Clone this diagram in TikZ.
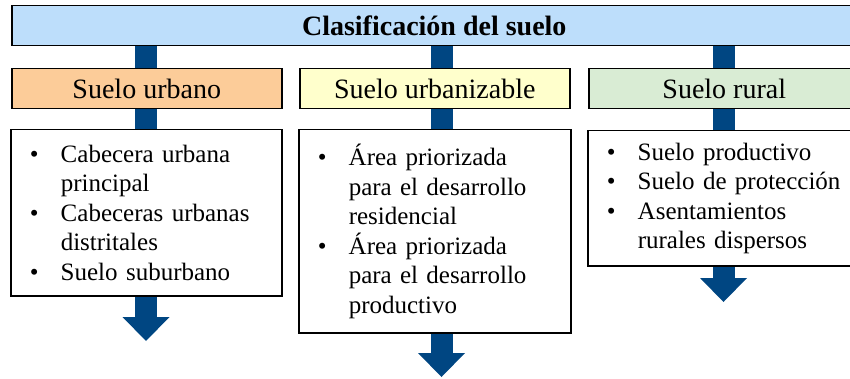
\documentclass[tikz,border=0pt]{standalone}
\usepackage{fontspec}
\setmainfont{Liberation Serif}
\usetikzlibrary{arrows.meta,backgrounds}
\definecolor{titleblue}{RGB}{189,222,251}
\definecolor{urbanorange}{RGB}{252,204,153}
\definecolor{expyellow}{RGB}{255,255,204}
\definecolor{ruralgreen}{RGB}{217,236,212}
\definecolor{arrowblue}{RGB}{0,70,130}
\newcommand{\bul}{\makebox[31pt][l]{\textbullet}}
\newcommand{\ind}{\hspace*{31pt}}

\begin{document}
\begin{tikzpicture}[x=1pt,y=1pt,
  box/.style={draw,line width=1.5pt,inner sep=0pt,anchor=north west},
  head/.style={box,minimum height=40pt,font=\fontsize{28}{32}\selectfont},
  body/.style={box,fill=white,inner xsep=19pt,align=left,font=\fontsize{25}{29.5}\selectfont},
  bigarrow/.style={arrowblue,line width=22pt,-{Triangle[width=47pt,length=24pt,line width=0pt]}}]
  \useasboundingbox (0,0) rectangle (850,-379);
  \node[head,fill=titleblue,minimum width=845pt,font=\fontsize{28}{32}\selectfont\bfseries] (title) at (11,-5) {Clasificación del suelo};
  \node[head,fill=urbanorange,minimum width=270pt] (uhead) at (11,-68) {Suelo urbano};
  \node[head,fill=expyellow,minimum width=270pt] (ehead) at (299,-68) {Suelo urbanizable};
  \node[head,fill=ruralgreen,minimum width=271pt] (rhead) at (588,-68) {Suelo rural};
  \node[body,text width=233pt,minimum height=166pt] (ubody) at (10,-129)
    {\bul Cabecera urbana\\ \ind principal\\ \bul Cabeceras urbanas\\ \ind distritales\\ \bul Suelo suburbano};
  \node[body,text width=234pt,minimum height=203pt] (ebody) at (298,-129)
    {\bul Área priorizada\\ \ind para el desarrollo\\ \ind residencial\\ \bul Área priorizada\\ \ind para el desarrollo\\ \ind productivo};
  \node[body,text width=234pt,minimum height=135pt] (rbody) at (587,-130)
    {\bul Suelo productivo\\ \bul Suelo de protección\\ \bul Asentamientos\\ \ind rurales dispersos};
  \coordinate (uend) at (146,-341);
  \coordinate (eend) at (441.5,-377);
  \coordinate (rend) at (723.5,-302);
  \begin{scope}[on background layer]
    \draw[bigarrow] (title.south -| uend) -- (uend);
    \draw[bigarrow] (title.south -| eend) -- (eend);
    \draw[bigarrow] (title.south -| rend) -- (rend);
  \end{scope}
\end{tikzpicture}
\end{document}
